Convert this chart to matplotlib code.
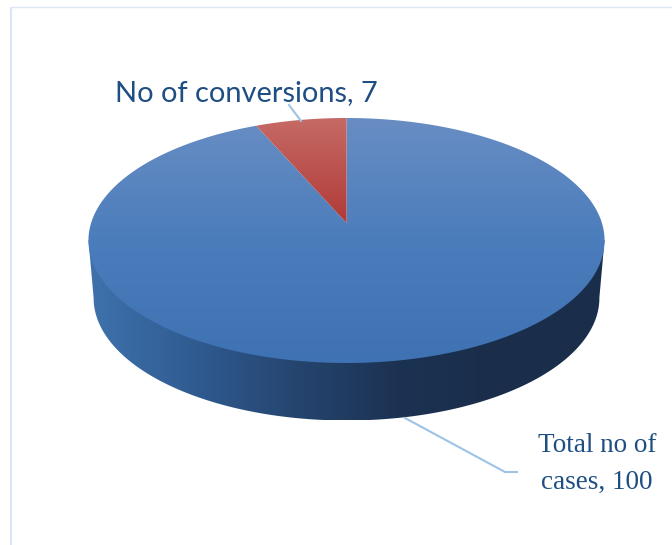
import matplotlib
matplotlib.use('Agg')
import matplotlib.pyplot as plt
import numpy as np
from matplotlib.colors import LinearSegmentedColormap
from matplotlib.patches import Polygon

labels = ['Total no of\ncases, 100', 'No of conversions, 7']
values = [100, 7]

TEXT_COLOR = '#1f4e82'
LEADER_COLOR = '#9dc3e6'
FRAME_COLOR = '#dbe6f6'

# apex of the pie on the canvas and the perspective of the top face
CX, CY = 346.5, 223.0
K = 1 / 7
A = 255.4
B = 120.0
DEPTH_SHIFT = 57.5
DEPTH_SCALE = 0.98


def project(theta):
    # theta runs clockwise from the far side of the disc, in radians
    u = np.sin(theta)
    v = np.cos(theta)
    w = 1 + K * v
    return CX + A * u / w, CY - B * v / w


def wedge(start, stop, n=200):
    t = np.linspace(start, stop, n)
    x, y = project(t)
    return np.column_stack([np.r_[CX, x], np.r_[CY, y]])


def gradient(ax, stops, verts, vertical=True):
    # paints a colour ramp clipped to a polygon
    cmap = LinearSegmentedColormap.from_list('ramp', stops)
    ramp = np.linspace(0, 1, 256)
    ramp = ramp[:, None] if vertical else ramp[None, :]
    x0, y0 = verts.min(axis=0)
    x1, y1 = verts.max(axis=0)
    im = ax.imshow(ramp, cmap=cmap, extent=(x0, x1, y1, y0), aspect='auto',
                   vmin=0, vmax=1, origin='upper', interpolation='bilinear')
    patch = Polygon(verts, closed=True, fc='none', ec='none', transform=ax.transData)
    ax.add_patch(patch)
    im.set_clip_path(patch)


fig = plt.figure(figsize=(6.72, 5.45), dpi=100, facecolor='white')
ax = fig.add_axes([0, 0, 1, 1])

# frame lines on the left and top
ax.plot([11, 11], [7, 545], color=FRAME_COLOR, lw=1.6, solid_capstyle='butt')
ax.plot([11, 672], [7, 7], color=FRAME_COLOR, lw=1.0, solid_capstyle='butt')

total = sum(values)
red_sweep = 2 * np.pi * values[1] / total

# rim of the pie, top face edge joined to the lower edge
t_full = np.linspace(0, 2 * np.pi, 721)
x_top, y_top = project(t_full)
left = np.argmin(x_top)
right = np.argmax(x_top)
t_low = np.linspace(t_full[right], t_full[left], 300)
x_low, y_low = project(t_low)
x_low = CX + (x_low - CX) * DEPTH_SCALE
y_low = y_low + DEPTH_SHIFT
side = np.column_stack([np.r_[x_top[right], x_low, x_top[left]],
                        np.r_[y_top[right], y_low, y_top[left]]])
gradient(ax, ['#3f72ac', '#305c92', '#25456f', '#1c3252', '#1a2e4b', '#1a2e4b'],
         side, vertical=False)

# top face, one vertical ramp per slice
blue = wedge(0, 2 * np.pi - red_sweep, 500)
red = wedge(2 * np.pi - red_sweep, 2 * np.pi, 60)
gradient(ax, ['#688dc3', '#4b7dbc', '#3f72b2'], blue)
gradient(ax, ['#c66a66', '#b03a37'], red)

# leader lines
ax.plot([289, 301], [105, 121], color=LEADER_COLOR, lw=1.5)
ax.plot([405, 505, 517], [418, 472, 472], color=LEADER_COLOR, lw=1.5)

ax.text(246, 93, labels[1], color=TEXT_COLOR, family='Lato', fontsize=20.9,
        ha='center', va='center')
ax.text(597, 464, labels[0], color=TEXT_COLOR, family='Liberation Serif', fontsize=19.5,
        ha='center', va='center', linespacing=1.65)

ax.set_xlim(0, 672)
ax.set_ylim(545, 0)
ax.axis('off')

fig.savefig('out.png', dpi=100)
